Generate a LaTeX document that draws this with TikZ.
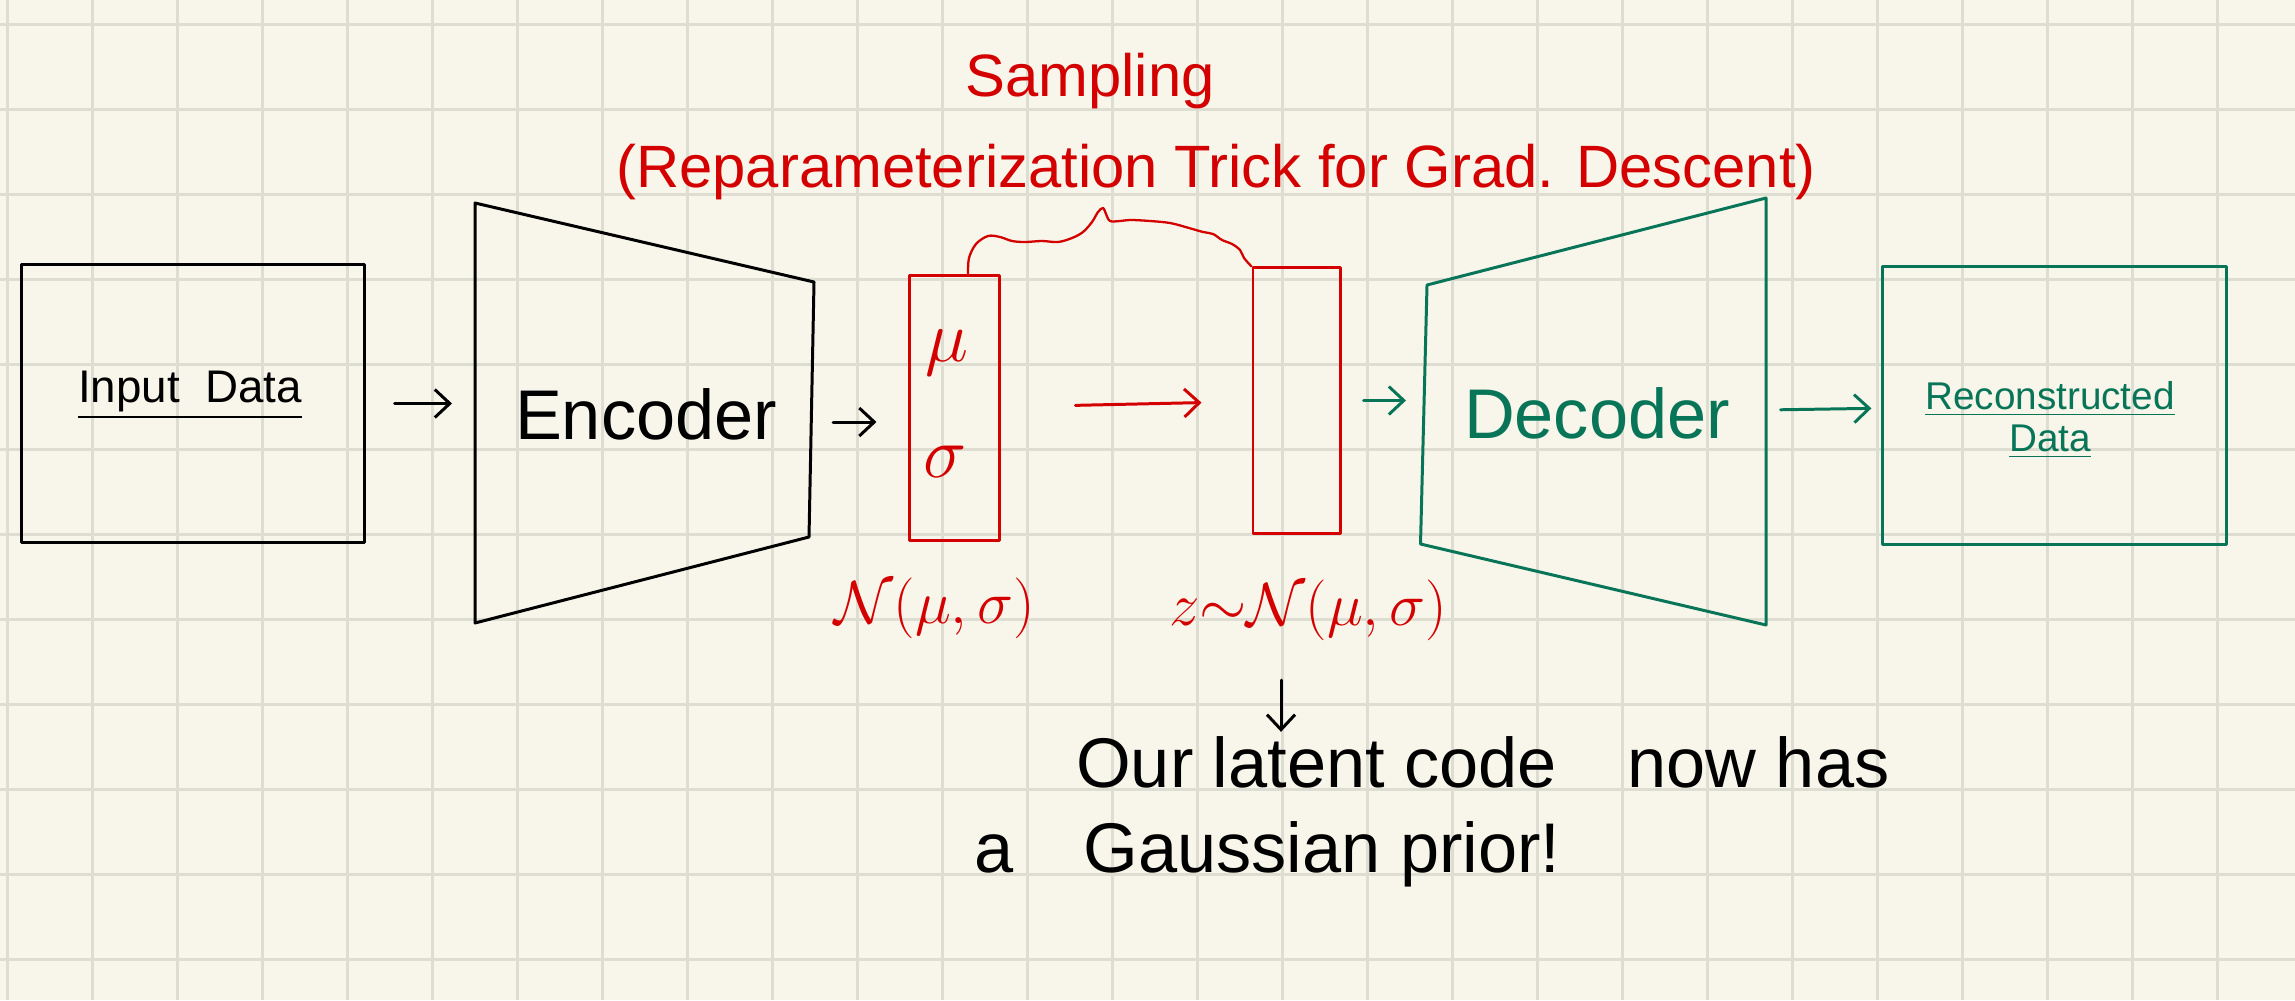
\documentclass[tikz,border=0pt]{standalone}
\usepackage{fontspec}
\setmainfont{Liberation Sans}
\usetikzlibrary{arrows.meta}
\definecolor{paper}{HTML}{F8F6EA}
\definecolor{gridgray}{HTML}{DEDDD1}
\definecolor{inkred}{HTML}{D40000}
\definecolor{inkgreen}{HTML}{087558}

\begin{document}
\begin{tikzpicture}[x=0.01cm,y=-0.01cm,
  >={Straight Barb[length=1.5mm,width=2.8mm]},
  ink/.style={line width=0.85pt,line join=round,line cap=round},
  box/.style={ink,draw,inner sep=0pt},
  word/.style={inner sep=1pt},
  big/.style={font=\fontsize{20}{24}\selectfont}]
  \useasboundingbox (0,0) rectangle (2295,1000);
  \fill[paper] (0,0) rectangle (2295,1000);
  \foreach \x in {0,...,26}
           {\draw[gridgray,line width=0.8pt] (7.5+85*\x,0) -- +(0,1000);}
  \foreach \y in {0,...,11}
           {\draw[gridgray,line width=0.8pt] (0,24.5+85*\y) -- +(2295,0);}
  %
  % input
  \node[box,minimum width=3.42cm,minimum height=2.77cm] (input) at (193,403.5) {};
  \node[word,font=\fontsize{13}{15}\selectfont] (input lbl) at (190,395) {\underline{Input\ \ Data}};
  %
  % encoder
  \coordinate (enc nw) at (475,203);
  \coordinate (enc ne) at (814,282);
  \coordinate (enc se) at (809,537);
  \coordinate (enc sw) at (475,623);
  \draw[ink] (enc nw) -- (enc ne) -- (enc se) -- (enc sw) -- cycle;
  \node[word,big] (enc) at (646,414) {Encoder};
  \coordinate (enc out) at (811,422);
  \draw[ink,->,shorten <=0.29cm,shorten >=0.23cm] (input) -- (input -| enc nw);
  %
  % latent
  \node[box,draw=inkred,minimum width=0.89cm,minimum height=2.64cm] (musig) at (954.5,408) {};
  \node[word,big,inkred] (mu) at (947,353) {$\mu$};
  \node[word,big,inkred] (sigma) at (945,462) {$\sigma$};
  \draw[ink,->,shorten <=0.22cm,shorten >=0.32cm] (enc out) -- (enc out -| musig.west);
  \node[box,draw=inkred,minimum width=0.87cm,minimum height=2.65cm] (zbox) at (1296.5,400.5) {};
  \draw[ink,inkred,->,shorten <=0.75cm,shorten >=0.5cm] (musig) -- (zbox);
  \draw[ink,inkred,line width=0.65pt] plot[smooth,tension=0.55] coordinates
    {([xshift=0.135cm]musig.north) (969,258) (976,244) (988,236) (1000,237) (1012,241)
     (1025,242) (1042,241) (1058,242) (1072,238) (1083,232) (1092,222) (1098,212)
     (1103,208) (1106,214) (1110,221) (1120,221) (1131,220) (1150,221) (1170,223)
     (1189,228) (1203,232) (1213,234) (1222,240) (1232,244) (1240,250) (1244,258)
     (zbox.north west)};
  \node[word,inkred,font=\fontsize{18}{22}\selectfont] (musig lbl) at (935,608) {$\mathcal{N}(\mu,\sigma)$};
  \node[word,inkred,font=\fontsize{18}{22}\selectfont] (z lbl) at (1308,610) {$z{\sim}\mathcal{N}(\mu,\sigma)$};
  \node[word,inkred,font=\fontsize{17}{20}\selectfont,anchor=base] (sampling) at (1090,96) {Sampling};
  \node[word,inkred,font=\fontsize{17}{20}\selectfont,anchor=base] (reparam) at (1216,187)
    {(Reparameterization Trick for Grad. Descent)};
  %
  % decoder
  \coordinate (dec nw) at (1427,285);
  \coordinate (dec ne) at (1766,198);
  \coordinate (dec se) at (1766,625);
  \coordinate (dec sw) at (1420.5,544);
  \draw[ink,inkgreen] (dec nw) -- (dec ne) -- (dec se) -- (dec sw) -- cycle;
  \node[word,big,inkgreen] (dec) at (1597,413) {Decoder};
  \coordinate (dec in) at (1424,402);
  \coordinate (dec out) at (1766,410);
  \draw[ink,inkgreen,->,shorten <=0.22cm,shorten >=0.18cm] (zbox) -- (zbox -| dec in);
  %
  % output
  \node[box,draw=inkgreen,minimum width=3.43cm,minimum height=2.77cm] (recon) at (2054.5,405.5) {};
  \node[word,inkgreen,font=\fontsize{11}{12}\selectfont,align=center] (recon lbl) at (2050,420)
    {\underline{Reconstructed}\\\underline{Data}};
  \draw[ink,inkgreen,->,shorten <=0.145cm,shorten >=0.1cm] (dec out) -- (recon);
  %
  % note
  \node[word,big,anchor=base west] (note1) at (1072,787) {Our latent code\quad now has};
  \node[word,big,anchor=base west] (note2) at (970,872) {a\quad Gaussian prior!};
  \coordinate (prior) at (1281,680);
  \draw[ink,->] (prior) -- (prior |- note1.north);
\end{tikzpicture}
\end{document}
